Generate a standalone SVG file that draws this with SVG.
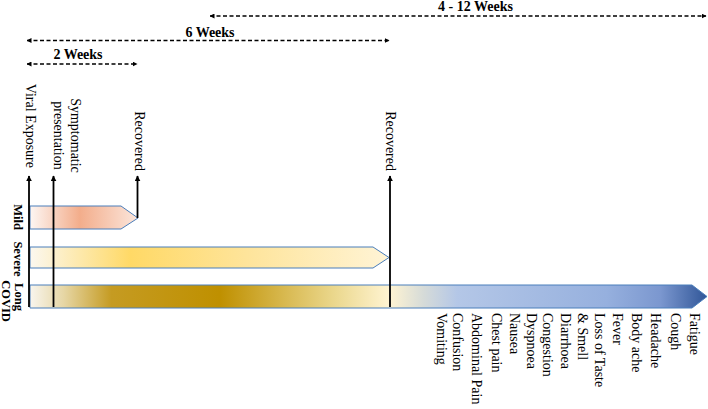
<svg xmlns="http://www.w3.org/2000/svg" width="708" height="409" viewBox="0 0 708 409">
<style>
.t{font-family:"Liberation Serif","Times New Roman",serif;font-size:14px;fill:#000}
.b{font-family:"Liberation Serif","Times New Roman",serif;font-size:14px;font-weight:bold;fill:#000}
.lb{font-family:"Liberation Serif","Times New Roman",serif;font-size:12.5px;font-weight:bold;fill:#000}
.bar{stroke:#4A7EBB;stroke-width:1}
.vl{stroke:#000;stroke-width:1.8;fill:none}
.dl{stroke:#000;stroke-width:1.5;stroke-dasharray:4 2.5;fill:none}
</style>
<defs>
<marker id="ah" viewBox="0 0 10 10" refX="9" refY="5" markerWidth="6" markerHeight="6" markerUnits="userSpaceOnUse" orient="auto-start-reverse"><path d="M0,0 L10,5 L0,10 z" fill="#000"/></marker>
<marker id="ad" viewBox="0 0 10 10" refX="9" refY="5" markerWidth="5" markerHeight="5" markerUnits="userSpaceOnUse" orient="auto-start-reverse"><path d="M0,0 L10,5 L0,10 z" fill="#000"/></marker>
<linearGradient id="gMild" gradientUnits="userSpaceOnUse" x1="30" y1="0" x2="138" y2="0">
<stop offset="0" stop-color="#FDF6F3"/><stop offset="0.46" stop-color="#F3AD8B"/><stop offset="1" stop-color="#FBE6DC"/>
</linearGradient>
<linearGradient id="gSev" gradientUnits="userSpaceOnUse" x1="30" y1="0" x2="389" y2="0">
<stop offset="0" stop-color="#FBF8F0"/><stop offset="0.28" stop-color="#FFD966"/><stop offset="0.6" stop-color="#FEE49A"/><stop offset="1" stop-color="#FFF4D6"/>
</linearGradient>
<linearGradient id="gLong" gradientUnits="userSpaceOnUse" x1="30" y1="0" x2="708" y2="0">
<stop offset="0" stop-color="#F8F5EE"/><stop offset="0.05" stop-color="#E6D6A4"/><stop offset="0.12" stop-color="#C59B22"/><stop offset="0.28" stop-color="#BF9000"/><stop offset="0.45" stop-color="#EBD88E"/><stop offset="0.53" stop-color="#FFF4D2"/><stop offset="0.58" stop-color="#D6DBD8"/><stop offset="0.63" stop-color="#B4C7E7"/><stop offset="0.85" stop-color="#96B0DE"/><stop offset="0.93" stop-color="#7B97CF"/><stop offset="1" stop-color="#2F5597"/>
</linearGradient>
</defs>
<rect width="708" height="409" fill="#fff"/>

<g id="bar-mild"><polygon class="bar" fill="url(#gMild)" points="30,206 121,206 138,218 121,229 30,229"/></g>
<g id="bar-severe"><polygon class="bar" fill="url(#gSev)" points="30,247 373,247 389,257.5 373,268 30,268"/></g>
<g id="bar-long"><polygon class="bar" fill="url(#gLong)" points="30,285 692,285 707,296.5 692,308 30,308"/></g>

<g id="connectors">
<line class="vl" x1="29" y1="307" x2="29" y2="176" marker-end="url(#ah)"/>
<line class="vl" x1="53.5" y1="307" x2="53.5" y2="176" marker-end="url(#ah)"/>
<line class="vl" x1="137.5" y1="218" x2="137.5" y2="176" marker-end="url(#ah)"/>
<line class="vl" x1="390" y1="307" x2="390" y2="176" marker-end="url(#ah)"/>
<line class="dl" x1="27" y1="64" x2="137" y2="64" marker-start="url(#ad)" marker-end="url(#ad)"/>
<line class="dl" x1="27" y1="40.5" x2="389" y2="40.5" marker-start="url(#ad)" marker-end="url(#ad)"/>
<line class="dl" x1="210" y1="16" x2="706" y2="16" marker-start="url(#ad)" marker-end="url(#ad)"/>
</g>

<g id="lbl-2w"><text class="b" x="78" y="59" text-anchor="middle">2 Weeks</text></g>
<g id="lbl-6w"><text class="b" x="210" y="37" text-anchor="middle">6 Weeks</text></g>
<g id="lbl-412w"><text class="b" x="475.5" y="11" text-anchor="middle">4 - 12 Weeks</text></g>

<g id="lbl-viral"><text class="t" transform="translate(26,168) rotate(90)" text-anchor="end">Viral Exposure</text></g>
<g id="lbl-symp"><text class="t" transform="translate(71,135.5) rotate(90)" text-anchor="middle">Symptomatic</text><text class="t" transform="translate(54,135.5) rotate(90)" text-anchor="middle">presentation</text></g>
<g id="lbl-rec1"><text class="t" transform="translate(135,171) rotate(90)" text-anchor="end">Recovered</text></g>
<g id="lbl-rec2"><text class="t" transform="translate(385.5,171) rotate(90)" text-anchor="end">Recovered</text></g>

<g id="lbl-mild"><text class="lb" transform="translate(13.5,217) rotate(90)" text-anchor="middle">Mild</text></g>
<g id="lbl-severe"><text class="lb" transform="translate(13.5,259) rotate(90)" text-anchor="middle">Severe</text></g>
<g id="lbl-long"><text class="lb" transform="translate(15,297) rotate(90)" text-anchor="middle">Long</text><text class="lb" transform="translate(2,301) rotate(90)" text-anchor="middle">COVID</text></g>

<g id="symptoms">
<text class="t" transform="translate(690,313) rotate(90)">Fatigue</text>
<text class="t" transform="translate(670.5,313) rotate(90)">Cough</text>
<text class="t" transform="translate(651,313) rotate(90)">Headache</text>
<text class="t" transform="translate(632,313) rotate(90)">Body ache</text>
<text class="t" transform="translate(613,313) rotate(90)">Fever</text>
<text class="t" transform="translate(595,313) rotate(90)">Loss of Taste</text>
<text class="t" transform="translate(578,313) rotate(90)">&amp; Smell</text>
<text class="t" transform="translate(561,313) rotate(90)">Diarrhoea</text>
<text class="t" transform="translate(543,313) rotate(90)">Congestion</text>
<text class="t" transform="translate(527,313) rotate(90)">Dyspnoea</text>
<text class="t" transform="translate(510,313) rotate(90)">Nausea</text>
<text class="t" transform="translate(492,313) rotate(90)">Chest pain</text>
<text class="t" transform="translate(471.5,313) rotate(90)">Abdominal Pain</text>
<text class="t" transform="translate(453,313) rotate(90)">Confusion</text>
<text class="t" transform="translate(437,313) rotate(90)">Vomiting</text>
</g>
</svg>
